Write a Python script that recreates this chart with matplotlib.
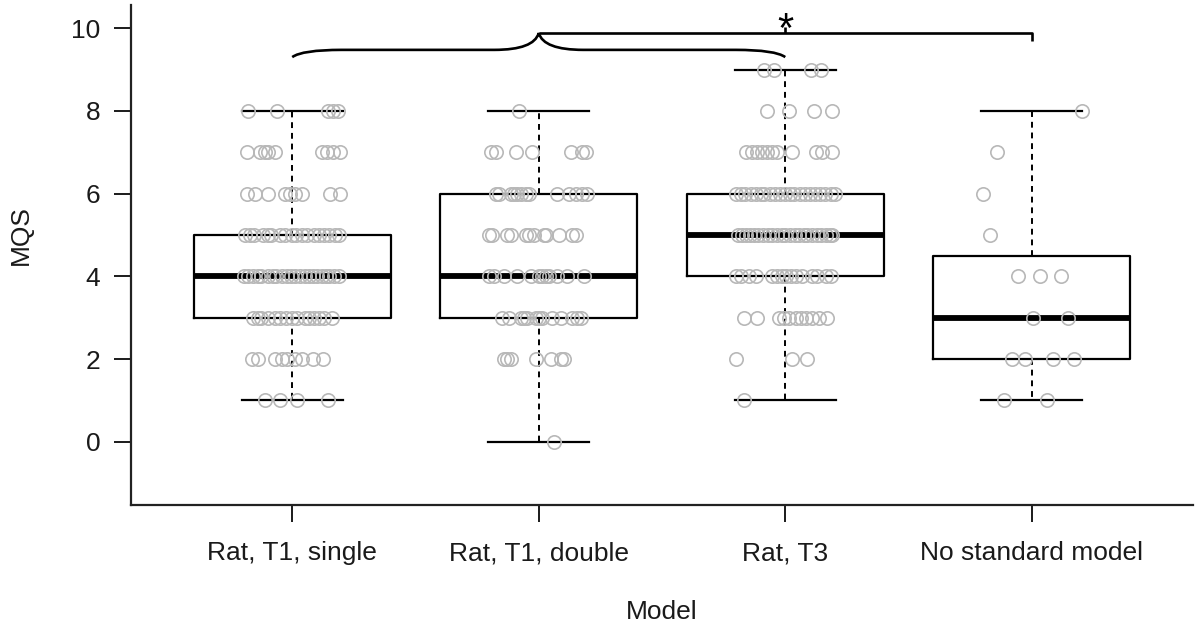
import matplotlib
matplotlib.use("Agg")
import matplotlib.pyplot as plt
from matplotlib.path import Path
from matplotlib.patches import PathPatch

# ---------------- data ----------------
categories = ["Rat, T1, single", "Rat, T1, double", "Rat, T3", "No standard model"]

# box statistics (whisker low, Q1, median, Q3, whisker high)
whislo = [1, 0, 1, 1]
q1 = [3, 3, 4, 2]
med = [4, 4, 5, 3]
q3 = [5, 6, 6, 4.5]
whishi = [8, 8, 9, 8]

g1_levels = [8, 7, 6, 5, 4, 3, 2, 1]
g1_jitter = [
    [-0.178, -0.061, 0.146, 0.166, 0.187],
    [-0.182, -0.130, -0.109, -0.097, -0.069, 0.122, 0.142, 0.166, 0.195],
    [-0.182, -0.150, -0.097, -0.028, -0.008, 0.012, 0.041, 0.154, 0.195],
    [-0.19, -0.17, -0.155, -0.12, -0.10, -0.085, -0.05, -0.03, 0.0, 0.015,
     0.04, 0.06, 0.09, 0.11, 0.13, 0.15, 0.175, 0.19],
    [-0.195, -0.18, -0.16, -0.14, -0.125, -0.10, -0.08, -0.065, -0.04, -0.02,
     -0.005, 0.01, 0.03, 0.05, 0.07, 0.085, 0.10, 0.12, 0.135, 0.15, 0.17, 0.19],
    [-0.16, -0.14, -0.125, -0.10, -0.07, -0.05, -0.025, 0.0, 0.02, 0.05,
     0.07, 0.09, 0.11, 0.13, 0.16],
    [-0.162, -0.138, -0.069, -0.041, -0.020, 0.012, 0.041, 0.085, 0.126],
    [-0.109, -0.049, 0.020, 0.146],
]

g2_levels = [8, 7, 6, 5, 4, 3, 2, 0]
g2_jitter = [
    [-0.081],
    [-0.195, -0.174, -0.093, -0.028, 0.130, 0.174, 0.191],
    [-0.174, -0.162, -0.114, -0.101, -0.089, -0.073, -0.053, -0.041, 0.073,
     0.122, 0.150, 0.174, 0.195],
    [-0.203, -0.191, -0.130, -0.114, -0.053, -0.041, -0.020, 0.020, 0.028,
     0.081, 0.134, 0.150],
    [-0.203, -0.182, -0.142, -0.089, -0.032, 0.0, 0.012, 0.028, 0.041, 0.073,
     0.114, 0.182],
    [-0.150, -0.122, -0.073, -0.061, -0.049, -0.012, 0.0, 0.012, 0.053, 0.089,
     0.134, 0.154, 0.170],
    [-0.142, -0.130, -0.114, -0.012, 0.049, 0.089, 0.101],
    [0.061],
]

g3_levels = [9, 8, 7, 6, 5, 4, 3, 2, 1]
g3_jitter = [
    [-0.085, -0.045, 0.105, 0.146],
    [-0.073, 0.016, 0.118, 0.191],
    [-0.158, -0.134, -0.114, -0.093, -0.073, -0.053, -0.032, 0.028, 0.126,
     0.150, 0.191],
    [-0.20, -0.18, -0.165, -0.14, -0.12, -0.10, -0.085, -0.06, -0.04, -0.02,
     0.0, 0.02, 0.035, 0.06, 0.08, 0.10, 0.12, 0.14, 0.16, 0.185, 0.20],
    [-0.19, -0.175, -0.16, -0.145, -0.125, -0.11, -0.09, -0.07, -0.055, -0.035,
     -0.015, 0.0, 0.02, 0.04, 0.055, 0.075, 0.09, 0.11, 0.13, 0.145, 0.165, 0.18, 0.19],
    [-0.199, -0.178, -0.146, -0.118, -0.053, -0.032, -0.012, 0.004, 0.024,
     0.045, 0.069, 0.109, 0.130, 0.166, 0.187],
    [-0.166, -0.114, -0.024, -0.004, 0.016, 0.045, 0.065, 0.085, 0.109,
     0.138, 0.170],
    [-0.199, 0.028, 0.089],
    [-0.166],
]

g4_levels = [8, 7, 6, 5, 4, 3, 2, 1]
g4_jitter = [
    [0.203],
    [-0.142],
    [-0.199],
    [-0.170],
    [-0.057, 0.032, 0.118],
    [0.004, 0.146],
    [-0.081, -0.028, 0.085, 0.170],
    [-0.114, 0.061],
]

yticks = [0, 2, 4, 6, 8, 10]
x_label = "Model"
y_label = "MQS"
sig_label = "*"

# ---------------- plot ----------------
plt.rcParams["font.family"] = ["Liberation Sans", "DejaVu Sans"]
text_col = "#1a1a1a"

fig = plt.figure(figsize=(11.97, 6.3), dpi=100)
W, H = 1197, 630
ax = fig.add_axes([131 / W, 125 / H, (1193 - 131) / W, (505 - 5) / H])

positions = [1, 2, 3, 4]
stats = []
for i in range(4):
    stats.append(dict(whislo=whislo[i], q1=q1[i], med=med[i], q3=q3[i],
                      whishi=whishi[i], fliers=[]))

ax.bxp(stats, positions=positions, widths=0.8, capwidths=0.41,
       showfliers=False, manage_ticks=False,
       boxprops=dict(color="black", linewidth=1.6),
       medianprops=dict(color="black", linewidth=4.2, solid_capstyle="butt"),
       whiskerprops=dict(color="black", linewidth=1.4, linestyle=(0, (3, 2.5))),
       capprops=dict(color="black", linewidth=1.6),
       zorder=2)

groups = [(g1_levels, g1_jitter), (g2_levels, g2_jitter),
          (g3_levels, g3_jitter), (g4_levels, g4_jitter)]
for pos, (levels, jit) in zip(positions, groups):
    xs, ys = [], []
    for lv, offs in zip(levels, jit):
        for o in offs:
            xs.append(pos + o)
            ys.append(lv)
    ax.plot(xs, ys, linestyle="none", marker="o", markersize=9.6,
            markerfacecolor="none", markeredgecolor="#b8b8b8",
            markeredgewidth=1.2, zorder=3)

ax.set_xlim(0.346, 4.654)
ax.set_ylim(-1.53, 10.56)

ax.set_yticks(yticks)
ax.set_yticklabels([str(t) for t in yticks])
ax.set_xticks(positions)
ax.set_xticklabels(categories)
ax.tick_params(axis="both", labelsize=19, colors=text_col, length=12, width=1.4)
ax.tick_params(axis="y", pad=10)
ax.tick_params(axis="x", pad=14)

for s in ["top", "right"]:
    ax.spines[s].set_visible(False)
for s in ["left", "bottom"]:
    ax.spines[s].set_linewidth(1.6)
    ax.spines[s].set_color("#222222")

ax.set_xlabel(x_label, fontsize=19, color=text_col)
ax.set_ylabel(y_label, fontsize=19, color=text_col)
ax.xaxis.set_label_coords(0.5, -0.19)
ax.yaxis.set_label_coords(-0.092, 0.54)

# ---------------- significance brackets ----------------
lw_b = 1.9
# curly brace spanning groups 1-3, peak at group 2
y_end, y_flat, y_peak = 9.30, 9.475, 9.88
verts = [
    (1.0, y_end), (1.04, y_flat), (1.2, y_flat),
    (1.82, y_flat),
    (1.98, y_flat), (2.0, y_peak),
    (2.02, y_flat), (2.18, y_flat),
    (2.8, y_flat),
    (2.96, y_flat), (3.0, y_end),
]
codes = [Path.MOVETO, Path.CURVE3, Path.CURVE3,
         Path.LINETO,
         Path.CURVE3, Path.CURVE3,
         Path.CURVE3, Path.CURVE3,
         Path.LINETO,
         Path.CURVE3, Path.CURVE3]
ax.add_patch(PathPatch(Path(verts, codes), facecolor="none", edgecolor="black",
                       linewidth=lw_b, zorder=4, capstyle="butt"))

# square bracket from brace peak (x=2) to group 4
ax.plot([2.0, 4.0, 4.0], [y_peak, y_peak, 9.70], color="black",
        linewidth=lw_b, zorder=4, solid_capstyle="butt")
ax.plot([3.0, 3.0], [y_peak, 10.04], color="black", linewidth=lw_b, zorder=4,
        solid_capstyle="butt")
ax.text(3.0, 9.67, sig_label, ha="center", va="baseline", fontsize=30,
        color="black", clip_on=False)

fig.savefig("out.png", dpi=100)
